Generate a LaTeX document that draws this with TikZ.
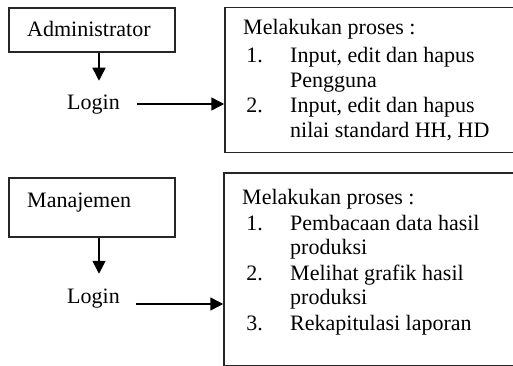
\documentclass[tikz,border=0pt]{standalone}
\usepackage{fontspec}
\setmainfont{Liberation Serif}
\usetikzlibrary{arrows.meta}
\begin{document}
\begin{tikzpicture}[x=1pt,y=-1pt,
  box/.style={draw=black!85,line width=1.5pt,inner sep=0pt},
  txt/.style={anchor=base west,inner sep=0pt,font=\fontsize{22}{25}\selectfont},
  num/.style={anchor=base east,inner sep=0pt,font=\fontsize{22}{25}\selectfont},
  arr/.style={draw=black,line width=1.5pt,-{Triangle[length=13pt,width=13pt]}}]
\path[use as bounding box,clip] (0,0) rectangle (513,366);
% left boxes
\node[box,minimum width=166pt,minimum height=44pt] (admin) at (92,30) {};
\node[txt] (admintxt) at (27,37) {Administrator};
\node[box,minimum width=166pt,minimum height=59pt] (manaj) at (92,207.5) {};
\node[txt] (manajtxt) at (27,207) {Manajemen};
% login texts
\node[txt] (login1) at (67,110) {Login};
\node[txt] (login2) at (67,303) {Login};
% right boxes
\node[box,minimum width=310pt,minimum height=145pt] (procA) at (380,80) {};
\node[box,minimum width=310pt,minimum height=193pt] (procB) at (379,269.5) {};
% arrows
\draw[arr] ([xshift=7pt]admin.south) -- ++(0,28);
\draw[arr] ([xshift=7pt]manaj.south) -- ++(0,36);
\coordinate (a1) at (137,104);
\coordinate (a2) at (136,304);
\draw[arr] (a1) -- (a1 -| procA.west);
\draw[arr] (a2) -- (a2 -| procB.west);
% texts of upper process box
\node[txt] (pa0) at (243,35) {Melakukan proses :};
\node[num] (pa1n) at (263,63) {1.};
\node[txt] (pa1) at (290,63) {Input, edit dan hapus};
\node[txt] (pa1b) at (290,88) {Pengguna};
\node[num] (pa2n) at (263,113) {2.};
\node[txt] (pa2) at (290,113) {Input, edit dan hapus};
\node[txt] (pa2b) at (290,138) {nilai standard HH, HD};
% texts of lower process box
\node[txt] (pb0) at (242,204) {Melakukan proses :};
\node[num] (pb1n) at (263,230) {1.};
\node[txt] (pb1) at (290,230) {Pembacaan data hasil};
\node[txt] (pb1b) at (290,254) {produksi};
\node[num] (pb2n) at (263,280) {2.};
\node[txt] (pb2) at (290,280) {Melihat grafik hasil};
\node[txt] (pb2b) at (290,304) {produksi};
\node[num] (pb3n) at (263,330) {3.};
\node[txt] (pb3) at (290,330) {Rekapitulasi laporan};
\end{tikzpicture}
\end{document}
